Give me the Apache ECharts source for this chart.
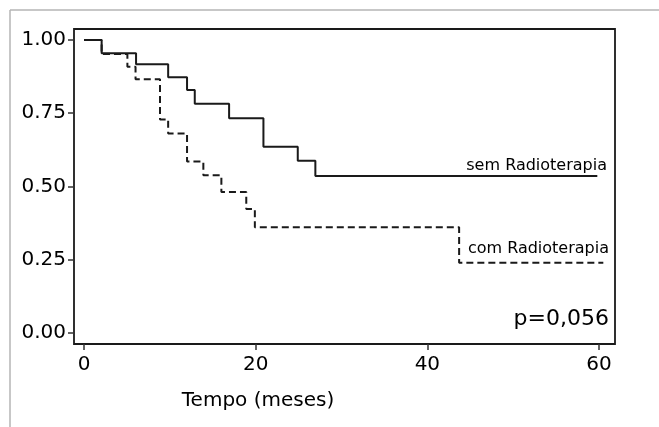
<!DOCTYPE html>
<html>
<head>
<meta charset="utf-8">
<script src="https://cdn.jsdelivr.net/npm/echarts@6/dist/echarts.min.js"></script>
<style>
  html, body { margin: 0; padding: 0; background: #fff; }
  #chart { width: 659px; height: 427px; }
</style>
</head>
<body>
<div id="chart"></div>
<script>
// tempo (meses) e sobrevida estimada
const semTempo = [0, 2.05, 6.06, 9.8, 12.0, 12.9, 16.9, 20.9, 24.9, 26.95, 59.8];
const semSobrev = [1.0, 0.955, 0.917, 0.873, 0.829, 0.782, 0.733, 0.636, 0.588, 0.536, 0.536];
const comTempo = [0, 2.05, 5.05, 6.0, 8.85, 9.8, 12.0, 13.9, 16.0, 18.9, 19.9, 43.7, 60.5];
const comSobrev = [1.0, 0.952, 0.909, 0.866, 0.729, 0.681, 0.585, 0.538, 0.481, 0.423, 0.361, 0.24, 0.24];
const xTicks = [0, 20, 40, 60];
const yTicks = [0, 0.25, 0.5, 0.75, 1.0];

const font = 'DejaVu Sans';
const chartsDom = document.getElementById('chart');
const mychart = echarts.init(chartsDom);

const option = {
  animation: false,
  grid: {
    left: 74,
    top: 29,
    right: 44,
    bottom: 83,
    show: true,
    borderColor: '#1a1a1a',
    borderWidth: 1.8,
  },
  xAxis: {
    type: 'value',
    min: -1.17,
    max: 61.86,
    axisLine: { show: false, onZero: false },
    splitLine: { show: false },
    axisTick: { show: true, customValues: xTicks, length: 6, lineStyle: { color: '#333', width: 1.5 } },
    axisLabel: {
      customValues: xTicks,
      margin: 11,
      fontFamily: font,
      fontSize: 20,
      color: '#000',
    },
  },
  yAxis: {
    type: 'value',
    min: -0.0375,
    max: 1.0375,
    axisLine: { show: false, onZero: false },
    splitLine: { show: false },
    axisTick: { show: true, customValues: yTicks, length: 6, lineStyle: { color: '#333', width: 1.5 } },
    axisLabel: {
      customValues: yTicks,
      margin: 8,
      fontFamily: font,
      fontSize: 20,
      color: '#000',
      padding: [0, 0, 6, 0],
      formatter: (v) => v.toFixed(2),
    },
  },
  series: [
    {
      name: 'sem Radioterapia',
      type: 'line',
      step: 'end',
      showSymbol: false,
      lineStyle: { color: '#1a1a1a', width: 2 },
      data: semTempo.map((t, i) => [t, semSobrev[i]]),
      z: 3,
    },
    {
      name: 'com Radioterapia',
      type: 'line',
      step: 'end',
      showSymbol: false,
      lineStyle: { color: '#1a1a1a', width: 2, type: [7, 4] },
      data: comTempo.map((t, i) => [t, comSobrev[i]]),
      z: 2,
    },
  ],
  graphic: [
    // moldura cinza (só topo e esquerda)
    { type: 'line', shape: { x1: 10, y1: 10, x2: 659, y2: 10 }, style: { stroke: '#b4b4b4', lineWidth: 1.5 } },
    { type: 'line', shape: { x1: 10, y1: 10, x2: 10, y2: 427 }, style: { stroke: '#b4b4b4', lineWidth: 1.5 } },
    { type: 'text', style: { x: 607, y: 166, text: 'sem Radioterapia', align: 'right', verticalAlign: 'middle', font: '16px "DejaVu Sans"', fill: '#000' } },
    { type: 'text', style: { x: 609, y: 249, text: 'com Radioterapia', align: 'right', verticalAlign: 'middle', font: '16px "DejaVu Sans"', fill: '#000' } },
    { type: 'text', style: { x: 609, y: 319, text: 'p=0,056', align: 'right', verticalAlign: 'middle', font: '22px "DejaVu Sans"', fill: '#000' } },
    { type: 'text', style: { x: 258, y: 401, text: 'Tempo (meses)', align: 'center', verticalAlign: 'middle', font: '20px "DejaVu Sans"', fill: '#000' } },
  ],
};

mychart.setOption(option);

window.addEventListener('resize', () => {
  mychart.resize();
});
</script>
</body>
</html>
